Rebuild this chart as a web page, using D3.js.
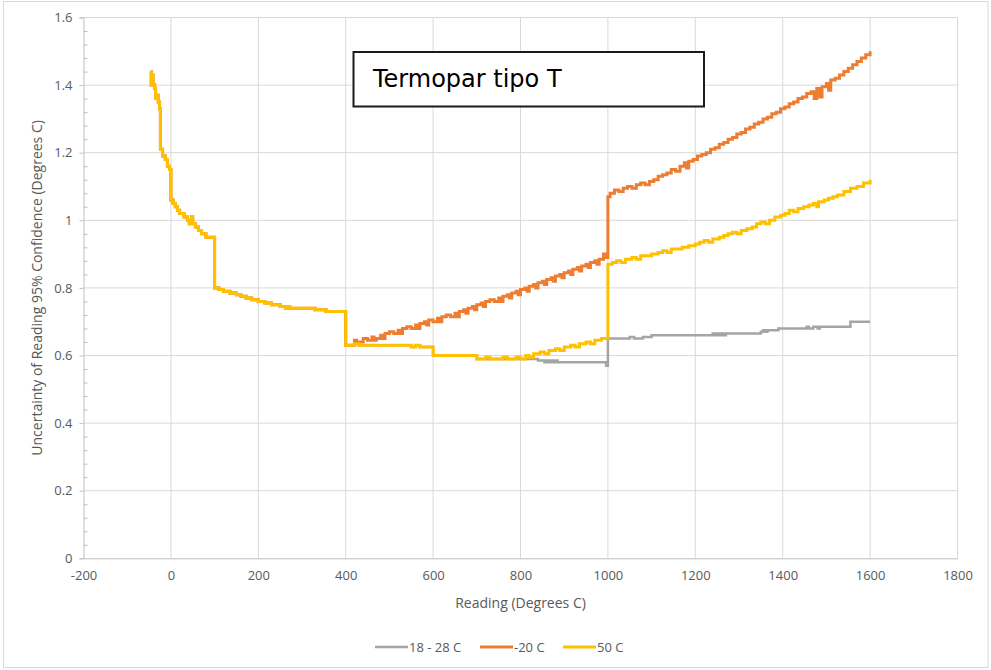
<!DOCTYPE html>
<html>
<head>
<meta charset="utf-8">
<script src="https://cdn.jsdelivr.net/npm/d3@7"></script>
<style>
  body { margin: 0; background: #fff; }
</style>
</head>
<body>
<div id="canvas"></div>
<script>
"use strict";

/*
   Data (reading in C, uncertainty in C), step values
*/

// all three ambient curves sit on top of each other up to 400 C
let sharedLowRange = [
    [-46, 1.44], [-45, 1.40], [-43, 1.43], [-41, 1.40], [-37, 1.39], [-35, 1.36],
    [-32, 1.37], [-29, 1.35], [-26, 1.33], [-24, 1.21], [-19, 1.19], [-13, 1.18],
    [-8, 1.16], [-3, 1.15], [0, 1.06], [5, 1.05], [10, 1.04], [15, 1.03],
    [20, 1.02], [30, 1.01], [38, 1.00], [42, 0.99], [47, 1.01], [50, 0.99],
    [56, 0.98], [63, 0.97], [70, 0.96], [80, 0.95], [100, 0.80], [110, 0.795],
    [120, 0.79], [135, 0.785], [150, 0.78], [160, 0.775], [172, 0.77], [185, 0.765],
    [200, 0.76], [215, 0.755], [230, 0.75], [250, 0.745], [262, 0.74], [268, 0.745],
    [272, 0.74], [330, 0.735], [355, 0.73], [400, 0.63]
];

let ambientTail = [
    [420, 0.635], [430, 0.63], [550, 0.625], [560, 0.63], [570, 0.625], [600, 0.60],
    [700, 0.59], [840, 0.585], [855, 0.58], [860, 0.585], [865, 0.58], [870, 0.585],
    [875, 0.58], [880, 0.585], [885, 0.58], [996, 0.57], [1000, 0.65], [1050, 0.655],
    [1060, 0.65], [1080, 0.655], [1100, 0.66], [1240, 0.665], [1245, 0.66], [1250, 0.665],
    [1255, 0.66], [1260, 0.665], [1265, 0.66], [1270, 0.665], [1350, 0.67], [1355, 0.675],
    [1360, 0.67], [1365, 0.675], [1390, 0.68], [1455, 0.685], [1460, 0.68], [1470, 0.685],
    [1480, 0.68], [1485, 0.685], [1555, 0.70], [1600, 0.70]
];

let coldTail = [
    [420, 0.645], [425, 0.635], [430, 0.64], [440, 0.65], [450, 0.645], [460, 0.655],
    [465, 0.645], [470, 0.65], [480, 0.66], [485, 0.65], [490, 0.665], [500, 0.67],
    [510, 0.665], [520, 0.675], [525, 0.665], [530, 0.68], [540, 0.685], [550, 0.68],
    [560, 0.69], [565, 0.68], [570, 0.695], [580, 0.70], [585, 0.69], [590, 0.705],
    [600, 0.70], [610, 0.71], [615, 0.70], [620, 0.715], [630, 0.72], [640, 0.715],
    [650, 0.725], [655, 0.715], [660, 0.73], [670, 0.735], [675, 0.725], [680, 0.74],
    [690, 0.745], [695, 0.735], [700, 0.75], [710, 0.755], [715, 0.745], [720, 0.76],
    [730, 0.765], [740, 0.76], [750, 0.77], [755, 0.76], [760, 0.775], [770, 0.78],
    [775, 0.77], [780, 0.785], [790, 0.79], [795, 0.78], [800, 0.795], [810, 0.80],
    [815, 0.79], [820, 0.805], [830, 0.81], [835, 0.80], [840, 0.815], [850, 0.82],
    [855, 0.81], [860, 0.825], [870, 0.83], [875, 0.82], [880, 0.835], [890, 0.84],
    [895, 0.83], [900, 0.845], [910, 0.85], [915, 0.84], [920, 0.855], [930, 0.86],
    [935, 0.85], [940, 0.865], [950, 0.87], [955, 0.86], [960, 0.875], [970, 0.88],
    [975, 0.87], [980, 0.885], [990, 0.90], [995, 0.89], [1000, 1.07],
    [1005, 1.08], [1015, 1.09], [1025, 1.085], [1035, 1.095], [1045, 1.10], [1055, 1.095],
    [1065, 1.105], [1075, 1.11], [1085, 1.105], [1095, 1.115], [1105, 1.12], [1115, 1.13],
    [1125, 1.135], [1135, 1.14], [1145, 1.15], [1155, 1.145], [1165, 1.16], [1175, 1.17],
    [1180, 1.155], [1185, 1.175], [1195, 1.18], [1205, 1.19], [1215, 1.195], [1225, 1.20],
    [1235, 1.21], [1245, 1.215], [1255, 1.225], [1265, 1.23], [1275, 1.24], [1285, 1.245],
    [1295, 1.255], [1305, 1.26], [1315, 1.27], [1325, 1.275], [1335, 1.285], [1345, 1.29],
    [1355, 1.30], [1365, 1.305], [1375, 1.315], [1385, 1.32], [1395, 1.33], [1405, 1.335],
    [1415, 1.345], [1425, 1.35], [1435, 1.36], [1445, 1.365], [1455, 1.375], [1465, 1.38],
    [1472, 1.36], [1478, 1.39], [1485, 1.365], [1490, 1.395], [1500, 1.405], [1505, 1.385],
    [1510, 1.415], [1520, 1.42], [1530, 1.43], [1540, 1.44], [1550, 1.45], [1560, 1.46],
    [1570, 1.47], [1580, 1.48], [1590, 1.49], [1600, 1.50]
];

let hotTail = [
    [420, 0.635], [430, 0.63], [550, 0.625], [560, 0.63], [570, 0.625], [600, 0.60],
    [700, 0.59], [720, 0.595], [730, 0.59], [760, 0.595], [770, 0.59], [790, 0.595],
    [800, 0.59], [812, 0.60], [820, 0.595], [830, 0.605], [845, 0.61], [855, 0.605],
    [865, 0.615], [880, 0.62], [890, 0.615], [900, 0.625], [915, 0.63], [925, 0.625],
    [935, 0.635], [950, 0.64], [960, 0.635], [970, 0.645], [985, 0.65], [1000, 0.87],
    [1010, 0.875], [1020, 0.88], [1030, 0.875], [1040, 0.885], [1055, 0.89], [1065, 0.885],
    [1075, 0.895], [1100, 0.90], [1115, 0.905], [1125, 0.91], [1135, 0.905], [1145, 0.915],
    [1170, 0.92], [1185, 0.925], [1200, 0.93], [1210, 0.935], [1220, 0.94], [1230, 0.935],
    [1240, 0.945], [1255, 0.95], [1265, 0.955], [1275, 0.96], [1285, 0.965], [1295, 0.96],
    [1305, 0.97], [1318, 0.975], [1330, 0.98], [1340, 0.99], [1350, 0.995], [1360, 0.99],
    [1370, 1.00], [1382, 1.01], [1395, 1.015], [1405, 1.02], [1415, 1.03], [1425, 1.025],
    [1435, 1.035], [1448, 1.04], [1460, 1.045], [1470, 1.05], [1478, 1.04], [1482, 1.055],
    [1495, 1.06], [1505, 1.065], [1515, 1.07], [1525, 1.075], [1540, 1.085], [1555, 1.095],
    [1570, 1.10], [1585, 1.11], [1600, 1.12]
];

let seriesNames = ["18 - 28 C", "-20 C", "50 C"];
let seriesColors = ["#a5a5a5", "#ed7d31", "#ffc000"];
let seriesWidths = [2.5, 3, 3];
let seriesPoints = [
    sharedLowRange.concat(ambientTail),
    sharedLowRange.concat(coldTail),
    sharedLowRange.concat(hotTail)
];

let xTicks = [-200, 0, 200, 400, 600, 800, 1000, 1200, 1400, 1600, 1800];
let yTicks = [0, 0.2, 0.4, 0.6, 0.8, 1, 1.2, 1.4, 1.6];

/*
   SVG setup
*/

let svgWidth = 991;
let svgHeight = 670;

let plotLeft = 83.5;
let plotRight = 957.5;
let plotTop = 17.5;
let plotBottom = 558.3;

let labelFont = "'Open Sans', Lato, sans-serif";
let labelColor = "#595959";
let axisColor = "#bfbfbf";
let gridColor = "#d9d9d9";

let svg = d3.select("#canvas")
    .append("svg")
    .attr("width", svgWidth)
    .attr("height", svgHeight)
    .style("display", "block");

svg.append("rect")
    .attr("width", svgWidth)
    .attr("height", svgHeight)
    .attr("fill", "#fff");

// chart border
svg.append("rect")
    .attr("x", 3.5)
    .attr("y", 1.5)
    .attr("width", 984.5)
    .attr("height", 666)
    .attr("fill", "none")
    .attr("stroke", gridColor);

// Scales
let xScale = d3.scaleLinear()
    .domain([-200, 1800])
    .range([plotLeft, plotRight]);

let yScale = d3.scaleLinear()
    .domain([0, 1.6])
    .range([plotBottom, plotTop]);

// Gridlines
svg.append("g")
    .selectAll("line")
    .data(xTicks.slice(1))
    .join("line")
    .attr("x1", d => xScale(d))
    .attr("x2", d => xScale(d))
    .attr("y1", plotTop)
    .attr("y2", plotBottom)
    .attr("stroke", gridColor);

svg.append("g")
    .selectAll("line")
    .data(yTicks.slice(1))
    .join("line")
    .attr("x1", plotLeft)
    .attr("x2", plotRight)
    .attr("y1", d => yScale(d))
    .attr("y2", d => yScale(d))
    .attr("stroke", gridColor);

// Minor y ticks (inside)
let minorTicks = d3.range(0, 41).map(i => i * 0.04).filter((d, i) => i % 5 !== 0);
svg.append("g")
    .attr("transform", `translate(${plotLeft}, 0)`)
    .call(d3.axisRight(yScale).tickValues(minorTicks).tickSize(4).tickFormat(""))
    .call(g => g.select(".domain").remove())
    .call(g => g.selectAll("line").attr("stroke", axisColor));

// Y axis
svg.append("g")
    .attr("transform", `translate(${plotLeft}, 0)`)
    .call(d3.axisLeft(yScale).tickValues(yTicks).tickSize(4).tickPadding(7)
        .tickFormat(d => String(+d.toFixed(1))))
    .call(g => g.select(".domain").attr("stroke", axisColor))
    .call(g => g.selectAll("line").attr("stroke", axisColor))
    .call(g => g.selectAll("text")
        .attr("fill", labelColor)
        .style("font-family", labelFont)
        .style("font-size", "13px"));

// X axis
svg.append("g")
    .attr("transform", `translate(0, ${plotBottom})`)
    .call(d3.axisBottom(xScale).tickValues(xTicks).tickSize(0).tickPadding(12)
        .tickFormat(d => String(d)))
    .call(g => g.select(".domain").attr("stroke", axisColor))
    .call(g => g.selectAll("text")
        .attr("fill", labelColor)
        .style("font-family", labelFont)
        .style("font-size", "13px"));

// Axis titles
svg.append("text")
    .attr("x", (plotLeft + plotRight) / 2)
    .attr("y", 608)
    .attr("text-anchor", "middle")
    .attr("fill", labelColor)
    .style("font-family", labelFont)
    .style("font-size", "14px")
    .text("Reading (Degrees C)");

svg.append("text")
    .attr("transform", "rotate(-90)")
    .attr("x", -(plotTop + plotBottom) / 2)
    .attr("y", 42)
    .attr("text-anchor", "middle")
    .attr("fill", labelColor)
    .style("font-family", labelFont)
    .style("font-size", "14px")
    .text("Uncertainty of Reading 95% Confidence (Degrees C)");

// Lines
let line = d3.line()
    .x(d => xScale(d[0]))
    .y(d => yScale(d[1]))
    .curve(d3.curveStepAfter);

seriesPoints.forEach((pts, i) => {
    svg.append("path")
        .datum(pts)
        .attr("d", line)
        .attr("fill", "none")
        .attr("stroke", seriesColors[i])
        .attr("stroke-width", seriesWidths[i])
        .attr("stroke-linejoin", "miter");
});

// Text box
svg.append("rect")
    .attr("x", 353.5)
    .attr("y", 52)
    .attr("width", 350.5)
    .attr("height", 54.5)
    .attr("fill", "#fff")
    .attr("stroke", "#1a1a1a")
    .attr("stroke-width", 2);

svg.append("text")
    .attr("x", 373)
    .attr("y", 87)
    .attr("fill", "#000")
    .style("font-family", "'DejaVu Sans', Verdana, sans-serif")
    .style("font-size", "24px")
    .text("Termopar tipo T");

// Legend
let legendX = [375, 480, 563];
seriesNames.forEach((name, i) => {
    svg.append("line")
        .attr("x1", legendX[i])
        .attr("x2", legendX[i] + 33)
        .attr("y1", 647)
        .attr("y2", 647)
        .attr("stroke", seriesColors[i])
        .attr("stroke-width", seriesWidths[i]);

    svg.append("text")
        .attr("x", legendX[i] + 34)
        .attr("y", 651.5)
        .attr("fill", labelColor)
        .style("font-family", labelFont)
        .style("font-size", "13px")
        .text(name);
});
</script>
</body>
</html>
